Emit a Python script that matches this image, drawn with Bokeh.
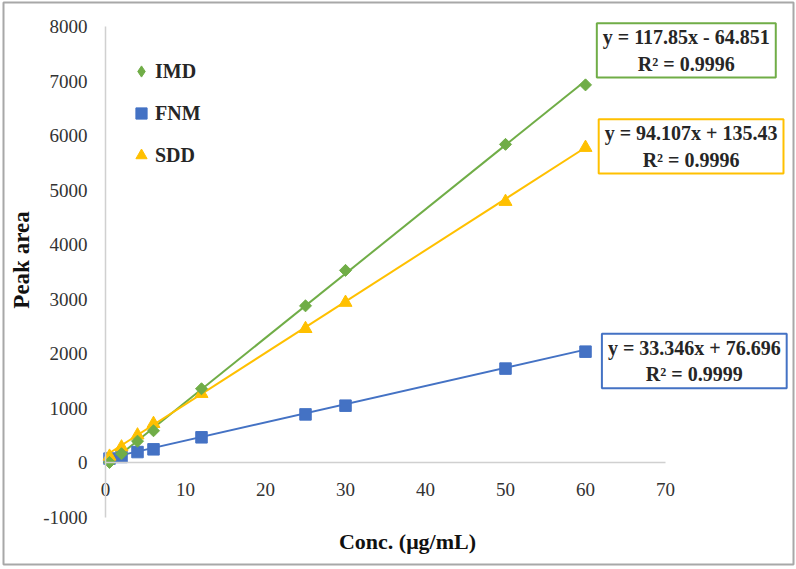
import numpy as np
from bokeh.plotting import figure
from bokeh.models import (LinearAxis, FixedTicker, Range1d, Legend, LegendItem,
                          Label)
from bokeh.embed import file_html
from bokeh.resources import INLINE

# Calibration data: concentration (µg/mL) vs. peak area
conc = [0.5, 2, 4, 6, 12, 25, 30, 50, 60]
imd_area = [10, 170, 400, 590, 1360, 2880, 3530, 5840, 6930]
fnm_area = [80, 110, 200, 250, 470, 890, 1050, 1730, 2040]
sdd_area = [120, 290, 510, 720, 1270, 2460, 2940, 4790, 5780]

# Linear regression results (slope, intercept, R²)
imd_fit = (117.85, -64.851, 0.9996)
fnm_fit = (33.346, 76.696, 0.9999)
sdd_fit = (94.107, 135.43, 0.9996)

x_ticks = [0, 10, 20, 30, 40, 50, 60, 70]
y_ticks = [-1000, 0, 1000, 2000, 3000, 4000, 5000, 6000, 7000, 8000]

GREEN = "#70AD47"
BLUE = "#4472C4"
GOLD = "#FFC000"
SERIF = "Liberation Serif"

# The frame fills almost the whole canvas (its outline is the chart border);
# the axes cross at the origin and are bounded to the value ranges.
p = figure(width=796, height=569,
           x_range=Range1d(-12.75, 86.0), y_range=Range1d(-1861, 8440),
           x_axis_type=None, y_axis_type=None,
           output_backend="svg", toolbar_location=None,
           min_border_left=3, min_border_right=3,
           min_border_top=2, min_border_bottom=5)
p.outline_line_color = "#a8a8a8"
p.outline_line_width = 2
p.background_fill_color = "white"
p.border_fill_color = "white"

yaxis = LinearAxis(ticker=FixedTicker(ticks=y_ticks), fixed_location=0,
                   bounds=(-1000, 8000),
                   major_label_overrides={-1000: "-1000"})
xaxis = LinearAxis(ticker=FixedTicker(ticks=x_ticks), fixed_location=0,
                   bounds=(0, 70))
# these two carry only the axis titles, set beyond the tick labels
ytitle = LinearAxis(ticker=FixedTicker(ticks=[]), fixed_location=0,
                    bounds=(-1000, 8460), axis_label="Peak area")
xtitle = LinearAxis(ticker=FixedTicker(ticks=[]), fixed_location=0,
                    bounds=(0, 75.5), axis_label="Conc. (μg/mL)")
for ax in (xaxis, yaxis, xtitle, ytitle):
    ax.axis_line_color = "#d0d0d0"
    ax.axis_line_width = 1.5
    ax.major_tick_line_color = None
    ax.minor_tick_line_color = None
    ax.major_tick_in = 0
    ax.major_tick_out = 0
    ax.minor_tick_in = 0
    ax.minor_tick_out = 0
    ax.major_label_text_font = SERIF
    ax.major_label_text_font_size = "19px"
    ax.major_label_text_color = "#333333"
    ax.axis_label_text_font = SERIF
    ax.axis_label_text_font_style = "bold"
    ax.axis_label_text_color = "#111111"
xtitle.axis_line_color = None
ytitle.axis_line_color = None
ytitle.axis_label_text_font_size = "23px"
xtitle.axis_label_text_font_size = "22px"
yaxis.major_label_standoff = 18
xaxis.major_label_standoff = 20
ytitle.axis_label_standoff = 72
xtitle.axis_label_standoff = 66
p.add_layout(yaxis, "left")
p.add_layout(ytitle, "left")
p.add_layout(xaxis, "below")
p.add_layout(xtitle, "below")

# Trendlines from the regression equations over the measured range
xs_fit = np.array([min(conc), max(conc)])
for (m, b, _), col in ((imd_fit, GREEN), (sdd_fit, GOLD), (fnm_fit, BLUE)):
    p.line(xs_fit, m * xs_fit + b, line_color=col, line_width=2)

r_fnm = p.scatter(conc, fnm_area, marker="square", size=11.5,
                  fill_color=BLUE, line_color=BLUE)
r_sdd = p.scatter(conc, sdd_area, marker="triangle", size=13,
                  fill_color=GOLD, line_color=GOLD)
r_imd = p.scatter(conc, imd_area, marker="square", angle=np.pi / 4, size=8.5,
                  fill_color=GREEN, line_color=GREEN)
# legend key for the IMD series (the legend draws markers unrotated)
r_imd_key = p.scatter(conc, imd_area, marker="diamond", size=12,
                      fill_color=GREEN, line_color=GREEN, visible=False)

legend = Legend(items=[LegendItem(label="IMD", renderers=[r_imd_key]),
                       LegendItem(label="FNM", renderers=[r_fnm]),
                       LegendItem(label="SDD", renderers=[r_sdd])],
                location=(124, 394))
legend.background_fill_alpha = 0
legend.border_line_color = None
legend.inactive_fill_alpha = 0
legend.padding = 0
legend.margin = 0
legend.spacing = 12
legend.glyph_width = 28
legend.glyph_height = 30
legend.label_height = 30
legend.label_standoff = 0
legend.label_text_font = SERIF
legend.label_text_font_style = "bold"
legend.label_text_font_size = "20px"
legend.label_text_color = "#262626"
p.add_layout(legend)


def equation(fit):
    m, b, r2 = fit
    sign = "-" if b < 0 else "+"
    return f"y = {m}x {sign} {abs(b)}\nR² = {r2}"


# Regression equation boxes beside each line
for fit, col, ex, ey in ((imd_fit, GREEN, 72.6, 7562),
                         (sdd_fit, GOLD, 73.2, 5802),
                         (fnm_fit, BLUE, 73.6, 1870)):
    p.add_layout(Label(x=ex, y=ey, text=equation(fit),
                       text_align="center", text_baseline="middle",
                       text_font=SERIF, text_font_style="bold",
                       text_font_size="20px", text_color="#262626",
                       background_fill_color="white",
                       border_line_color=col, border_line_width=2,
                       padding=dict(left=6, right=6, top=3, bottom=3)))

open("out.html", "w").write(file_html(p, INLINE))
